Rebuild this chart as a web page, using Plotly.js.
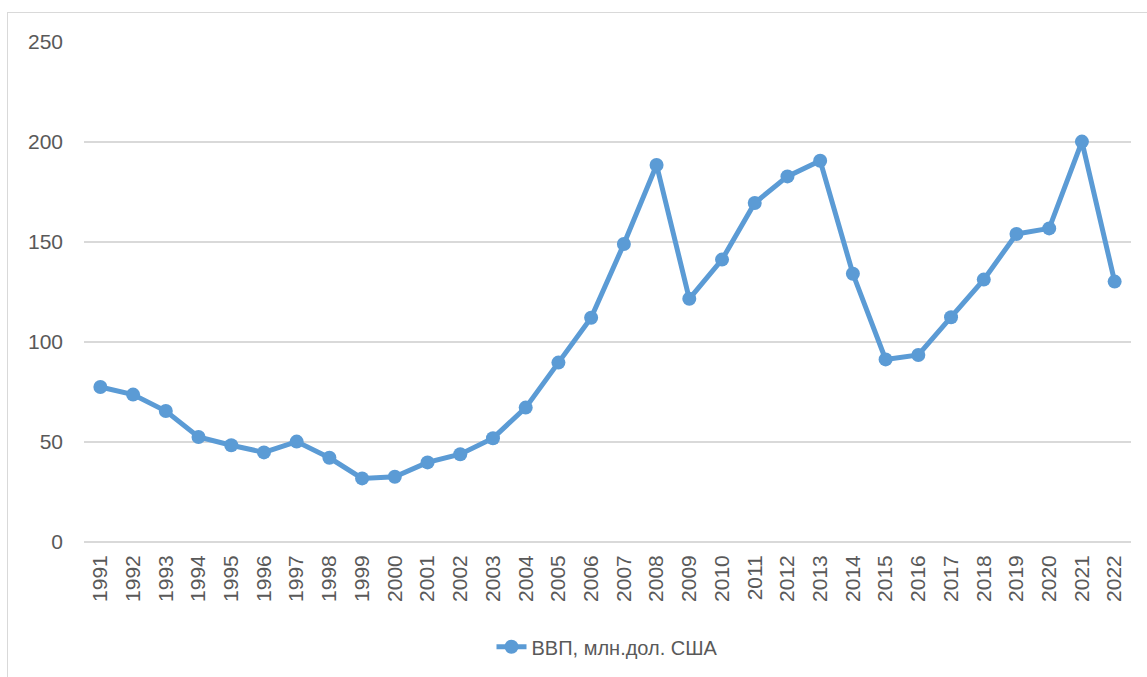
<!DOCTYPE html>
<html>
<head>
<meta charset="utf-8">
<script src="https://cdn.plot.ly/plotly-3.0.1.min.js"></script>
<style>
  html, body { margin: 0; padding: 0; background: #fff; overflow: hidden; }
  #frame { position: absolute; left: 7px; top: 12px; width: 1300px; height: 800px; border: 1px solid #d9d9d9; box-sizing: border-box; pointer-events: none; }
  #chart { position: absolute; left: 0; top: 0; width: 1147px; height: 677px; }
</style>
</head>
<body>
<div id="chart"></div>
<div id="frame"></div>
<script>
const years = ["1991","1992","1993","1994","1995","1996","1997","1998","1999","2000",
  "2001","2002","2003","2004","2005","2006","2007","2008","2009","2010",
  "2011","2012","2013","2014","2015","2016","2017","2018","2019","2020","2021","2022"];
const gdp = [77.5, 73.7, 65.5, 52.5, 48.4, 44.8, 50.2, 42.1, 31.8, 32.6,
  39.8, 43.9, 51.9, 67.2, 89.7, 112.1, 149.0, 188.5, 121.6, 141.2,
  169.5, 182.8, 190.6, 134.1, 91.3, 93.5, 112.4, 131.2, 154.0, 156.8, 200.2, 130.2];
const seriesName = "ВВП, млн.дол. США";
const yTicks = [0, 50, 100, 150, 200, 250];

const font = { family: "Liberation Sans, Arial, sans-serif", size: 20, color: "#595959" };
const tickFont = { family: "Liberation Sans, Arial, sans-serif", size: 21, color: "#595959" };

Plotly.newPlot("chart", [{
  x: years,
  y: gdp,
  type: "scatter",
  mode: "lines+markers",
  name: seriesName,
  line: { color: "#5B9BD5", width: 5 },
  marker: { color: "#5B9BD5", size: 14 },
  showlegend: true
}], {
  width: 1147,
  height: 677,
  margin: { l: 84, r: 16, t: 42, b: 134 },
  paper_bgcolor: "#ffffff",
  plot_bgcolor: "#ffffff",
  font: font,
  xaxis: {
    type: "category",
    range: [-0.5, years.length - 0.5],
    tickangle: -90,
    showgrid: false,
    showline: false,
    zeroline: false,
    ticks: "",
    ticklabelstandoff: 8,
    tickfont: tickFont,
    fixedrange: true
  },
  yaxis: {
    range: [0, 250],
    tickvals: yTicks,
    ticktext: yTicks.map(String),
    showgrid: true,
    gridcolor: "#d9d9d9",
    gridwidth: 1.3,
    zeroline: true,
    zerolinecolor: "#d9d9d9",
    zerolinewidth: 1.3,
    showline: false,
    ticks: "",
    ticklabelstandoff: 20,
    tickfont: tickFont,
    fixedrange: true
  },
  legend: {
    orientation: "h",
    x: 0.5,
    xanchor: "center",
    y: -0.207,
    yanchor: "middle",
    font: font,
    bgcolor: "rgba(0,0,0,0)"
  },
  showlegend: true
}, { displayModeBar: false, staticPlot: true });
</script>
</body>
</html>
